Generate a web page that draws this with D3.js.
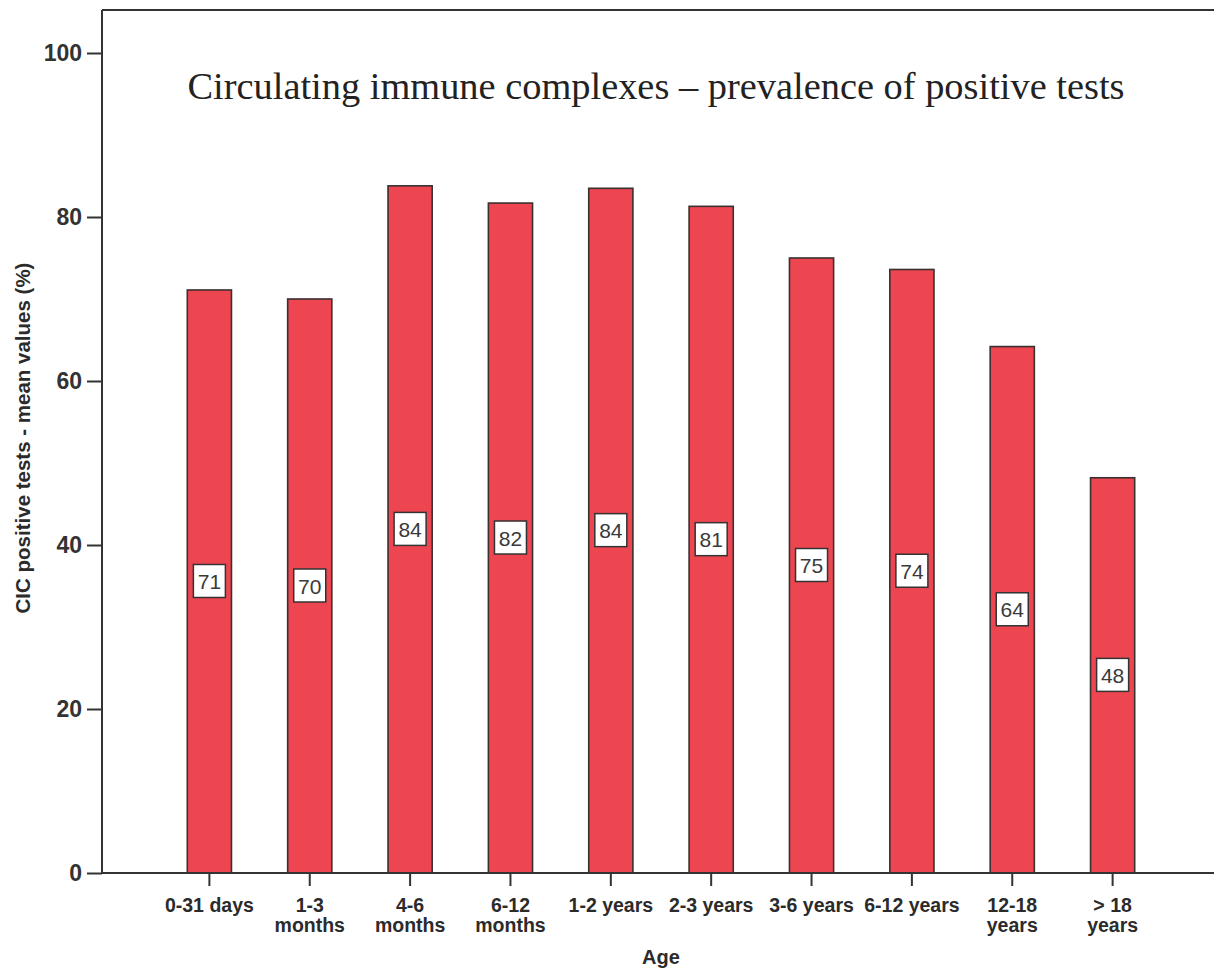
<!DOCTYPE html>
<html>
<head>
<meta charset="utf-8">
<script src="https://cdn.jsdelivr.net/npm/d3@7"></script>
<style>
  html, body { margin: 0; padding: 0; background: #fff; }
  svg { display: block; }
</style>
</head>
<body>
<svg id="chart" width="1214" height="970"></svg>
<script>
// Age groups (two-line labels split on "\n")
const categories = [
  "0-31 days", "1-3\nmonths", "4-6\nmonths", "6-12\nmonths", "1-2 years",
  "2-3 years", "3-6 years", "6-12 years", "12-18\nyears", "> 18\nyears"
];
// Mean prevalence of positive CIC tests (%)
const values = [71.1, 70.0, 83.8, 81.7, 83.5, 81.3, 75.0, 73.6, 64.2, 48.2];
const yTicks = [0, 20, 40, 60, 80, 100];

const title = "Circulating immune complexes \u2013 prevalence of positive tests";
const yTitle = "CIC positive tests - mean values (%)";
const xTitle = "Age";

const svg = d3.select("#chart");
const plotLeft = 102, plotRight = 1220, plotTop = 10, plotBottom = 873;

const x = d3.scaleBand()
  .domain(categories)
  .range([plotLeft, plotRight])
  .paddingInner(0.56)
  .paddingOuter(0.85);

const y = d3.scaleLinear().domain([0, 100]).range([plotBottom, 53]);

const ink = "#333";

// frame: top edge
svg.append("line")
  .attr("x1", plotLeft).attr("x2", plotRight)
  .attr("y1", plotTop).attr("y2", plotTop)
  .attr("stroke", ink).attr("stroke-width", 2);

// bars
svg.append("g").selectAll("rect")
  .data(values)
  .join("rect")
  .attr("x", (d, i) => x(categories[i]))
  .attr("width", x.bandwidth())
  .attr("y", d => y(d))
  .attr("height", d => y(0) - y(d))
  .attr("fill", "#ee4650")
  .attr("stroke", "#3a3030")
  .attr("stroke-width", 1.6);

// value labels in boxes at bar mid-height
const fmt = d3.format(".0f");
const lab = svg.append("g").selectAll("g")
  .data(values)
  .join("g")
  .attr("transform", (d, i) => `translate(${x(categories[i]) + x.bandwidth() / 2},${y(d / 2)})`);
lab.append("rect")
  .attr("x", -16).attr("y", -17)
  .attr("width", 32).attr("height", 33)
  .attr("fill", "#fff")
  .attr("stroke", "#333")
  .attr("stroke-width", 1.5);
lab.append("text")
  .attr("text-anchor", "middle")
  .attr("y", 7.5)
  .attr("font-family", "Liberation Sans, Arial, sans-serif")
  .attr("font-size", 21)
  .attr("fill", "#3a3a3a")
  .text(d => fmt(d));

// y axis
const yAxis = svg.append("g")
  .attr("transform", `translate(${plotLeft},0)`)
  .call(d3.axisLeft(y).tickValues(yTicks).tickSize(15).tickPadding(5));
yAxis.select(".domain").attr("d", `M0,${plotTop}V${plotBottom}`).attr("stroke", ink).attr("stroke-width", 2);
yAxis.selectAll(".tick line").attr("stroke", ink).attr("stroke-width", 2);
yAxis.selectAll(".tick text")
  .attr("font-family", "Liberation Sans, Arial, sans-serif")
  .attr("font-weight", "bold")
  .attr("font-size", 23)
  .attr("fill", "#333");

// x axis
const xAxis = svg.append("g")
  .attr("transform", `translate(0,${plotBottom})`)
  .call(d3.axisBottom(x).tickSize(13).tickPadding(6).tickFormat(""));
xAxis.select(".domain").attr("d", `M${plotLeft},0H${plotRight}`).attr("stroke", ink).attr("stroke-width", 2);
xAxis.selectAll(".tick line").attr("stroke", ink).attr("stroke-width", 2);
xAxis.selectAll(".tick").each(function (d) {
  const t = d3.select(this).append("text")
    .attr("text-anchor", "middle")
    .attr("font-family", "Liberation Sans, Arial, sans-serif")
    .attr("font-weight", "bold")
    .attr("font-size", 19.5)
    .attr("fill", "#2b2b2b");
  d.split("\n").forEach((line, k) => {
    t.append("tspan").attr("x", 0).attr("y", 39 + k * 20).text(line);
  });
});

// titles
svg.append("text")
  .attr("x", 656).attr("y", 99)
  .attr("text-anchor", "middle")
  .attr("font-family", "Liberation Serif, Times New Roman, serif")
  .attr("font-size", 38.4)
  .attr("fill", "#222")
  .text(title);

svg.append("text")
  .attr("transform", "translate(30,438) rotate(-90)")
  .attr("text-anchor", "middle")
  .attr("font-family", "Liberation Sans, Arial, sans-serif")
  .attr("font-weight", "bold")
  .attr("font-size", 20.5)
  .attr("fill", "#2b2b2b")
  .text(yTitle);

svg.append("text")
  .attr("x", 661).attr("y", 964)
  .attr("text-anchor", "middle")
  .attr("font-family", "Liberation Sans, Arial, sans-serif")
  .attr("font-weight", "bold")
  .attr("font-size", 20)
  .attr("fill", "#2b2b2b")
  .text(xTitle);
</script>
</body>
</html>
